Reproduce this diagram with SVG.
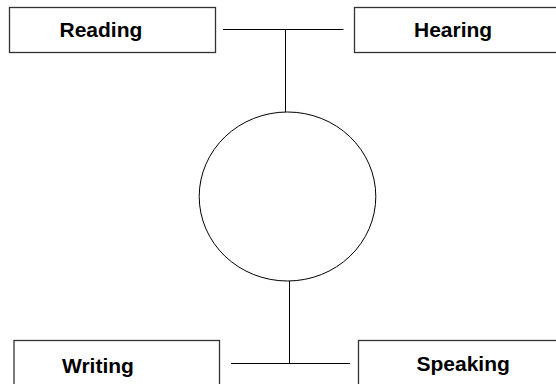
<svg xmlns="http://www.w3.org/2000/svg" width="556" height="384" viewBox="0 0 556 384">
<style>
.box{fill:#fff;stroke:#333;stroke-width:1.3}
.lbl{font-family:"Liberation Sans",Arial,sans-serif;font-weight:bold;font-size:21px;fill:#000}
.ln{stroke:#000;stroke-width:1;fill:none}
</style>
<rect width="556" height="384" fill="#fff"/>
<g id="connectors">
<line class="ln" x1="223" y1="29.5" x2="343.5" y2="29.5"/>
<line class="ln" x1="285.5" y1="29.5" x2="285.5" y2="112"/>
<line class="ln" x1="231" y1="363.5" x2="350" y2="363.5"/>
<line class="ln" x1="289.5" y1="281" x2="289.5" y2="363.5"/>
</g>
<g id="center">
<ellipse cx="287.5" cy="196.5" rx="88.3" ry="84.5" fill="#fff" stroke="#000" stroke-width="1"/>
</g>
<g id="reading">
<rect class="box" x="9.5" y="7.5" width="206" height="45"/>
<text class="lbl" x="59.5" y="37">Reading</text>
</g>
<g id="hearing">
<rect class="box" x="354.5" y="7.5" width="210" height="45"/>
<text class="lbl" x="414" y="37">Hearing</text>
</g>
<g id="writing">
<rect class="box" x="14" y="340.5" width="205.5" height="50"/>
<text class="lbl" x="62" y="372.5">Writing</text>
</g>
<g id="speaking">
<rect class="box" x="358.5" y="340.5" width="210" height="50"/>
<text class="lbl" x="416.5" y="371">Speaking</text>
</g>
</svg>
